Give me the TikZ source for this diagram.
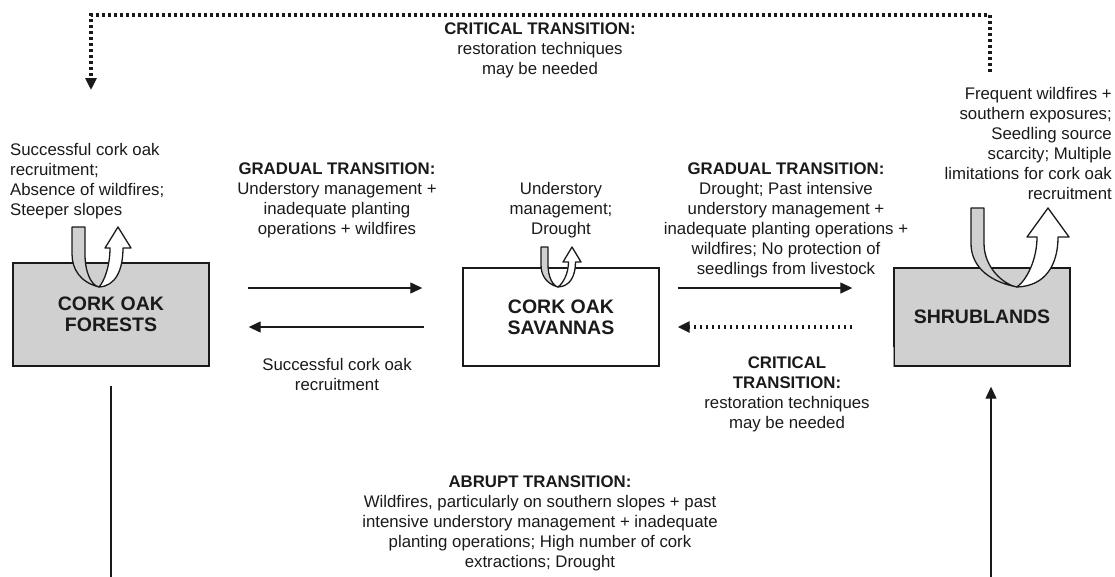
\documentclass[tikz,border=0pt]{standalone}
\usepackage{fontspec}
\setmainfont{Liberation Sans}
\usetikzlibrary{arrows.meta}
\definecolor{ink}{HTML}{1A1A1A}
\definecolor{boxgray}{HTML}{D0D0D0}
\newcommand{\myUturn}[9]{%
 \begin{scope}[shift={#1}, yscale=-1, line width=1.3pt, line join=round]
  \filldraw[fill=boxgray, draw=ink] (#2,#4) -- ({#2+#3},#4) -- ({#2+#3},{0.55*#4}) .. controls ({#2+#3},{0.25*#4}) and ({0.3*(#2)},{0.03*#4}) .. (0,0) .. controls ({0.7*(#2)},{0.08*#4}) and (#2,{0.3*#4}) .. (#2,{0.55*#4}) -- cycle;
  \filldraw[fill=white, draw=ink] (0,0) .. controls ({0.5*#6},{0.15*#5}) and (#6,{0.55*#5}) .. (#6,#5) -- (#8,#5) -- ({(#8+#9)/2},#4) -- (#9,#5) -- (#7,#5) .. controls (#7,{0.45*#5}) and ({0.7*#7},{0.02*#5}) .. (0,0) -- cycle;
 \end{scope}}
\begin{document}
\begin{tikzpicture}[x=1pt,y=-1pt,
  txt/.style={font=\fontsize{16.8}{20}\selectfont, text=ink, inner sep=0pt, align=center},
  state/.style={draw=ink, line width=1.4pt, font=\bfseries\fontsize{19.5}{21}\selectfont, text=ink, align=center, inner sep=0pt},
  arr/.style={draw=ink, line width=1.3pt, -{Triangle[length=12pt,width=11pt]}},
  dotarr/.style={draw=ink, line width=3.2pt, dash pattern=on 2.8pt off 3.2pt, -{Triangle[length=12pt,width=11pt]}}]
\useasboundingbox (0,0) rectangle (1115,576);

% states
\node[state, fill=boxgray, minimum width=196pt, minimum height=103pt] (forests) at (111,314.5) {CORK OAK\\FORESTS};
\node[state, fill=white, minimum width=196pt, minimum height=98pt] (savannas) at (561,317) {CORK OAK\\SAVANNAS};
\node[state, fill=boxgray, minimum width=176pt, minimum height=98pt] (shrub) at (982,317) {SHRUBLANDS};
\draw[line width=1.6pt, draw=boxgray!75!black] (shrub.south west) -- ([yshift=20pt]shrub.south west);

% self-loop arrows
\myUturn{(99,287)}{-27}{13}{60}{39}{11}{24}{6}{32}
\myUturn{(558,287)}{-17}{7}{40}{25}{10.5}{17.5}{5}{23}
\myUturn{(1017,287)}{-46}{13}{79}{50}{20}{41}{10}{52}

% labels
\node[txt, anchor=west, align=left] (flab) at (10,181) {Successful cork oak\\recruitment;\\Absence of wildfires;\\Steeper slopes};
\node[txt] (g1) at (337,200) {\textbf{GRADUAL TRANSITION:}\\Understory management +\\inadequate planting\\operations + wildfires};
\node[txt] (slab) at (561,210) {Understory\\management;\\Drought};
\node[txt] (g2) at (786,220) {\textbf{GRADUAL TRANSITION:}\\Drought; Past intensive\\understory management +\\inadequate planting operations +\\wildfires; No protection of\\seedlings from livestock};
\node[txt, anchor=east, align=right] (shlab) at (1112,143) {Frequent wildfires +\\southern exposures;\\Seedling source\\scarcity; Multiple\\limitations for cork oak\\recruitment};
\node[txt] (succ) at (337,374) {Successful cork oak\\recruitment};
\node[txt] (c2) at (787,394) {\textbf{CRITICAL}\\\textbf{TRANSITION:}\\restoration techniques\\may be needed};
\node[txt] (c1) at (540,50) {\textbf{CRITICAL TRANSITION:}\\restoration techniques\\may be needed};
\node[txt] (ab) at (540,523) {\textbf{ABRUPT TRANSITION:}\\Wildfires, particularly on southern slopes + past\\intensive understory management + inadequate\\planting operations; High number of cork\\extractions; Drought};

% horizontal transitions
\coordinate (r1) at (0,288);
\coordinate (r2) at (0,327);
\draw[arr, shorten <=38pt, shorten >=40pt] (forests.east |- r1) -- (savannas.west |- r1);
\draw[arr, shorten <=38pt, shorten >=39pt] (savannas.west |- r2) -- (forests.east |- r2);
\draw[arr, shorten <=18pt, shorten >=41pt] (savannas.east |- r1) -- (shrub.west |- r1);
\draw[dotarr, shorten <=41pt, shorten >=18pt] (shrub.west |- r2) -- (savannas.east |- r2);

% top critical transition
\coordinate (ctstart) at (990,72);
\coordinate (ctend) at (91,90);
\coordinate (cttop) at (0,15);
\draw[dotarr] (ctstart) -- (ctstart |- cttop) -- (ctend |- cttop) -- (ctend);

% abrupt transition
\begin{scope}
\clip (0,0) rectangle (1115,576);
\coordinate (bot) at (0,600);
\coordinate (sa) at ([xshift=9pt]shrub.south);
\draw[arr, shorten <=19pt, shorten >=20pt] (forests.south) -- (forests.south |- bot) -- (sa |- bot) -- (sa);
\end{scope}
\end{tikzpicture}
\end{document}
